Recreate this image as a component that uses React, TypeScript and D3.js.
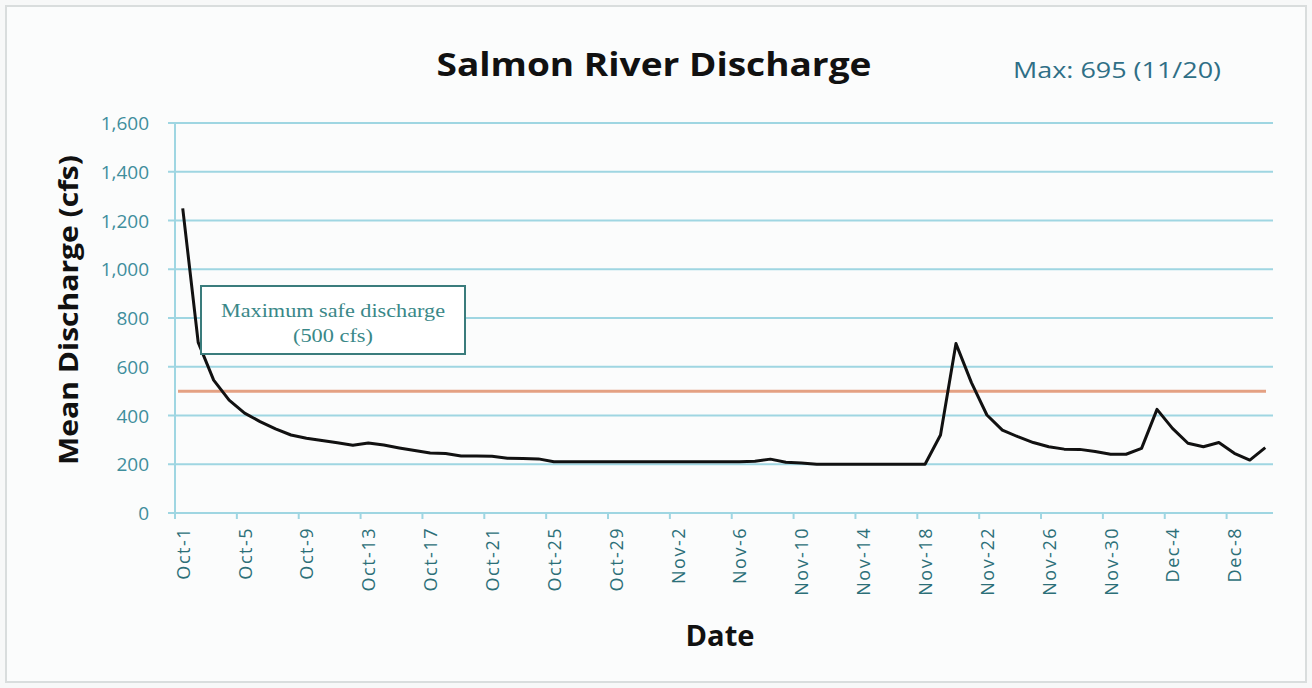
import React from "react";
import * as d3 from "d3";

const dates: string[] = (() => {
  const out: string[] = [];
  for (let d = 1; d <= 31; d++) out.push(`Oct-${d}`);
  for (let d = 1; d <= 30; d++) out.push(`Nov-${d}`);
  for (let d = 1; d <= 10; d++) out.push(`Dec-${d}`);
  return out;
})();

const discharge: number[] = [
  1250, 700, 545, 463, 410, 375, 345, 320, 307, 297,
  288, 278, 287, 279, 267, 256, 246, 244, 234, 234,
  233, 225, 224, 222, 210, 210, 210, 210, 210, 210,
  210, 210, 210, 210, 210, 210, 210, 212, 221, 208,
  205, 200, 200, 200, 200, 200, 200, 200, 200, 320,
  695, 535, 402, 340, 313, 289, 272, 262, 261, 252,
  241, 241, 265, 425, 347, 286, 272, 289, 245, 217,
  268,
];

const yTicks: number[] = [0, 200, 400, 600, 800, 1000, 1200, 1400, 1600];
const safeLimit = 500;

const W = 1312;
const H = 688;
const left = 175;
const right = 1273;
const top = 123;
const bottom = 513;

export default function App() {
  const x = d3.scaleBand<string>().domain(dates).range([left, right]).padding(0);
  const bw = x.bandwidth();
  const cx = (d: string) => (x(d) as number) + bw / 2;
  const y = d3.scaleLinear().domain([0, 1600]).range([bottom, top]);

  const line = d3
    .line<number>()
    .x((_, i) => cx(dates[i]))
    .y((v) => y(v));

  const labelDates = dates.filter((_, i) => i % 4 === 0);
  const fmt = d3.format(",");
  const sans = "'Open Sans', 'Noto Sans', sans-serif";
  const serif = "'Liberation Serif', 'DejaVu Serif', serif";
  const teal = "#3f8e9c";
  const grid = "#9fd6e2";

  return (
    <div style={{ position: "fixed", left: 0, top: 0, width: W, height: H }}>
      <svg width={W} height={H} style={{ display: "block" }}>
        <rect x={0} y={0} width={W} height={H} fill="#f7f8f8" />
        <rect x={6} y={6} width={W - 12} height={H - 12} fill="#fbfcfc" stroke="#d9dddd" strokeWidth={2} />

        {/* title */}
        <text x={654} y={76} textAnchor="middle" fontFamily={sans} fontWeight={700} fontSize={33}
          textLength={435} lengthAdjust="spacingAndGlyphs" fill="#111">
          Salmon River Discharge
        </text>
        <text x={1117} y={78} textAnchor="middle" fontFamily={sans} fontSize={22}
          textLength={208} lengthAdjust="spacingAndGlyphs" fill="#2f6f86">
          Max: 695 (11/20)
        </text>

        {/* gridlines */}
        {yTicks.map((t) => (
          <g key={t}>
            <line x1={left - 7} x2={right} y1={y(t)} y2={y(t)} stroke={grid} strokeWidth={2} />
            <text x={149} y={y(t) + 7} textAnchor="end" fontFamily={sans} fontSize={19} fill={teal}>
              {fmt(t)}
            </text>
          </g>
        ))}
        <line x1={left} x2={left} y1={top} y2={bottom + 6} stroke={grid} strokeWidth={2} />

        {/* x ticks */}
        {labelDates.map((d) => (
          <line key={"t" + d} x1={x(d) as number} x2={x(d) as number} y1={bottom} y2={bottom + 6} stroke={grid} strokeWidth={2} />
        ))}
        {labelDates.map((d) => (
          <text
            key={"l" + d}
            transform={`translate(${cx(d) + 7},${bottom + 14}) rotate(-90)`}
            textAnchor="end"
            fontFamily={sans}
            fontSize={18}
            letterSpacing={1.5}
            fill="#2c6f78"
          >
            {d}
          </text>
        ))}

        {/* safe limit */}
        <line x1={left + 3} x2={right - 7} y1={y(safeLimit)} y2={y(safeLimit)} stroke="#e4a183" strokeWidth={3} />

        {/* series */}
        <path d={line(discharge) || ""} fill="none" stroke="#111" strokeWidth={3} strokeLinejoin="round" />

        {/* annotation */}
        <rect x={201} y={286} width={264} height={68} fill="#ffffff" stroke="#3a7c7c" strokeWidth={2} />
        <text x={333} y={317} textAnchor="middle" fontFamily={serif} fontSize={18}
          textLength={224} lengthAdjust="spacingAndGlyphs" fill="#3a8888">
          Maximum safe discharge
        </text>
        <text x={333} y={342} textAnchor="middle" fontFamily={serif} fontSize={18}
          textLength={80} lengthAdjust="spacingAndGlyphs" fill="#3a8888">
          (500 cfs)
        </text>

        {/* axis titles */}
        <text
          transform={`translate(78,310) rotate(-90)`}
          textAnchor="middle"
          fontFamily={sans}
          fontWeight={700}
          fontSize={27}
          textLength={310}
          lengthAdjust="spacingAndGlyphs"
          fill="#111"
        >
          Mean Discharge (cfs)
        </text>
        <text x={720} y={646} textAnchor="middle" fontFamily={sans} fontWeight={700} fontSize={28}
          textLength={69} lengthAdjust="spacingAndGlyphs" fill="#111">
          Date
        </text>
      </svg>
    </div>
  );
}
